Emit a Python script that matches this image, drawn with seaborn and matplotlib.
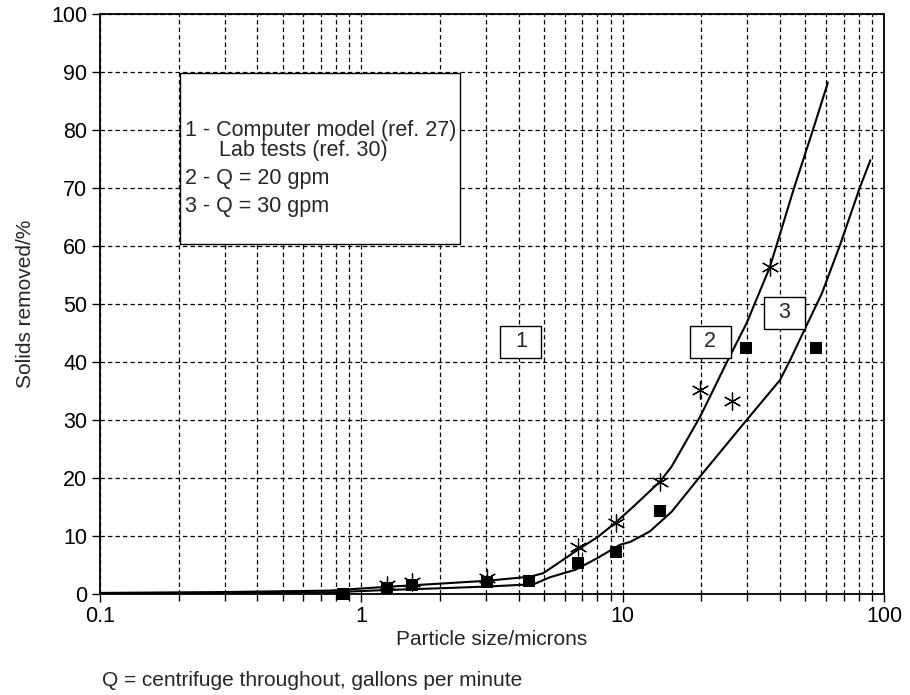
import matplotlib
matplotlib.use("Agg")
import matplotlib.pyplot as plt
import seaborn as sns
import pandas as pd
from matplotlib.patches import Rectangle
from matplotlib.transforms import IdentityTransform, ScaledTranslation
from matplotlib.ticker import FixedLocator, FixedFormatter, LogLocator, NullFormatter

# ---- data ----
curve2_x = [0.1, 0.3, 0.76, 1.25, 2.0, 3.03, 4.42, 4.97, 6.87, 8.0, 9.33, 11.0, 13.9, 15.4,
            19.8, 25.3, 29.8, 36.6, 45.4, 53.7, 61.0]
curve2_y = [0.1, 0.25, 0.5, 1.15, 1.7, 2.2, 2.9, 3.5, 7.8, 9.7, 12.1, 15.0, 19.3, 21.9,
            30.5, 40.3, 46.6, 56.3, 70.1, 80.2, 88.1]

curve3_x = [0.1, 0.3, 0.76, 1.25, 2.0, 3.03, 4.57, 5.27, 6.6, 8.0, 9.77, 10.7, 12.7, 15.4,
            19.8, 29.8, 40.0, 43.8, 49.9, 57.8, 67.9, 81.0, 88.7]
curve3_y = [0.05, 0.1, 0.2, 0.6, 0.9, 1.2, 1.6, 2.8, 4.1, 6.1, 8.4, 8.9, 10.7, 14.1,
            20.2, 29.9, 36.8, 40.3, 45.7, 51.7, 60.1, 70.1, 74.7]

stars_x = [1.25, 1.56, 3.03, 6.73, 9.41, 13.9, 19.8, 26.2, 36.6]
stars_y = [1.5, 2.0, 2.7, 8.1, 12.2, 19.3, 35.1, 33.2, 56.3]

squares_x = [0.85, 1.25, 1.56, 3.03, 4.39, 6.77, 9.41, 13.9, 29.7, 55.0]
squares_y = [0.0, 1.0, 1.5, 1.9, 2.2, 5.2, 7.2, 14.3, 42.4, 42.4]

x_ticks = [0.1, 1, 10, 100]
x_tick_labels = ["0.1", "1", "10", "100"]
y_ticks = [0, 10, 20, 30, 40, 50, 60, 70, 80, 90, 100]

legend_lines = ["1 - Computer model (ref. 27)", "Lab tests (ref. 30)",
                "2 - Q = 20 gpm", "3 - Q = 30 gpm"]
curve_labels = ["1", "2", "3"]
curve_label_pos = [(4.08, 43.4), (21.6, 43.4), (41.5, 48.4)]

x_label = "Particle size/microns"
y_label = "Solids removed/%"
footnote = "Q = centrifuge throughout, gallons per minute"

# ---- plotting ----
sns.set_style("white")
plt.rcParams['font.family'] = ['Liberation Sans', 'DejaVu Sans']

W, H = 910, 695
fig = plt.figure(figsize=(W / 100, H / 100), dpi=100)
ax = fig.add_axes([100 / W, 1 - 593.5 / H, 784 / W, 580 / H])

df2 = pd.DataFrame({"x": curve2_x, "y": curve2_y})
df3 = pd.DataFrame({"x": curve3_x, "y": curve3_y})
dfs = pd.DataFrame({"x": stars_x, "y": stars_y})
dfq = pd.DataFrame({"x": squares_x, "y": squares_y})

sns.lineplot(data=df2, x="x", y="y", ax=ax, color="black", lw=1.5, sort=False, zorder=4)
sns.lineplot(data=df3, x="x", y="y", ax=ax, color="black", lw=1.5, sort=False, zorder=4)
sns.scatterplot(data=dfs, x="x", y="y", ax=ax, marker=(6, 2, 0), s=150,
                color="black", linewidth=0.9, zorder=5, clip_on=False)
sns.scatterplot(data=dfq, x="x", y="y", ax=ax, marker="s", s=75,
                color="black", edgecolor="black", linewidth=0, zorder=5, clip_on=False)

ax.set_xscale("log")
ax.set_xlim(0.1, 100)
ax.set_ylim(0, 100)

ax.xaxis.set_major_locator(FixedLocator(x_ticks))
ax.xaxis.set_major_formatter(FixedFormatter(x_tick_labels))
ax.xaxis.set_minor_locator(LogLocator(base=10, subs=range(2, 10)))
ax.xaxis.set_minor_formatter(NullFormatter())
ax.set_yticks(y_ticks)

ax.tick_params(axis="both", which="major", direction="out", length=6, width=1.0,
               labelsize=15.5, colors="black", pad=3)
ax.tick_params(axis="x", which="minor", direction="out", length=5, width=1.0, colors="black")
ax.tick_params(bottom=True, left=True, which="both")

ax.grid(True, which="both", axis="x", color="black", lw=0.9, ls=(0, (3.5, 2.5)))
ax.grid(True, which="major", axis="y", color="black", lw=0.9, ls=(0, (3.5, 2.5)))
ax.set_axisbelow(True)

for sp in ax.spines.values():
    sp.set_color("black")
    sp.set_linewidth(1.3)

ax.set_xlabel(x_label, fontsize=15, labelpad=2)
ax.set_ylabel(y_label, fontsize=15, labelpad=12)

# legend box
ax.add_patch(Rectangle((0.102, 0.602), 0.357, 0.295, transform=ax.transAxes,
                       facecolor="white", edgecolor="black", lw=1.0, zorder=6))
legend_pos = [(0.108, 0.799), (0.152, 0.763), (0.108, 0.715), (0.108, 0.667)]
for (tx, ty), line in zip(legend_pos, legend_lines):
    ax.text(tx, ty, line, transform=ax.transAxes, fontsize=15.5, va="center",
            ha="left", zorder=7)

# curve label boxes (fixed pixel size, centred on a data position)
for lab, (lx, ly) in zip(curve_labels, curve_label_pos):
    tr = IdentityTransform() + ScaledTranslation(lx, ly, ax.transData)
    ax.add_patch(Rectangle((-20.5, -16), 41, 32, transform=tr, facecolor="white",
                           edgecolor="black", lw=1.0, zorder=6))
    ax.text(lx, ly, lab, fontsize=15.5, ha="center", va="center", zorder=7)

fig.text(102 / W, 1 - 680 / H, footnote, fontsize=15, ha="left", va="center")

fig.savefig("out.png", dpi=100)
